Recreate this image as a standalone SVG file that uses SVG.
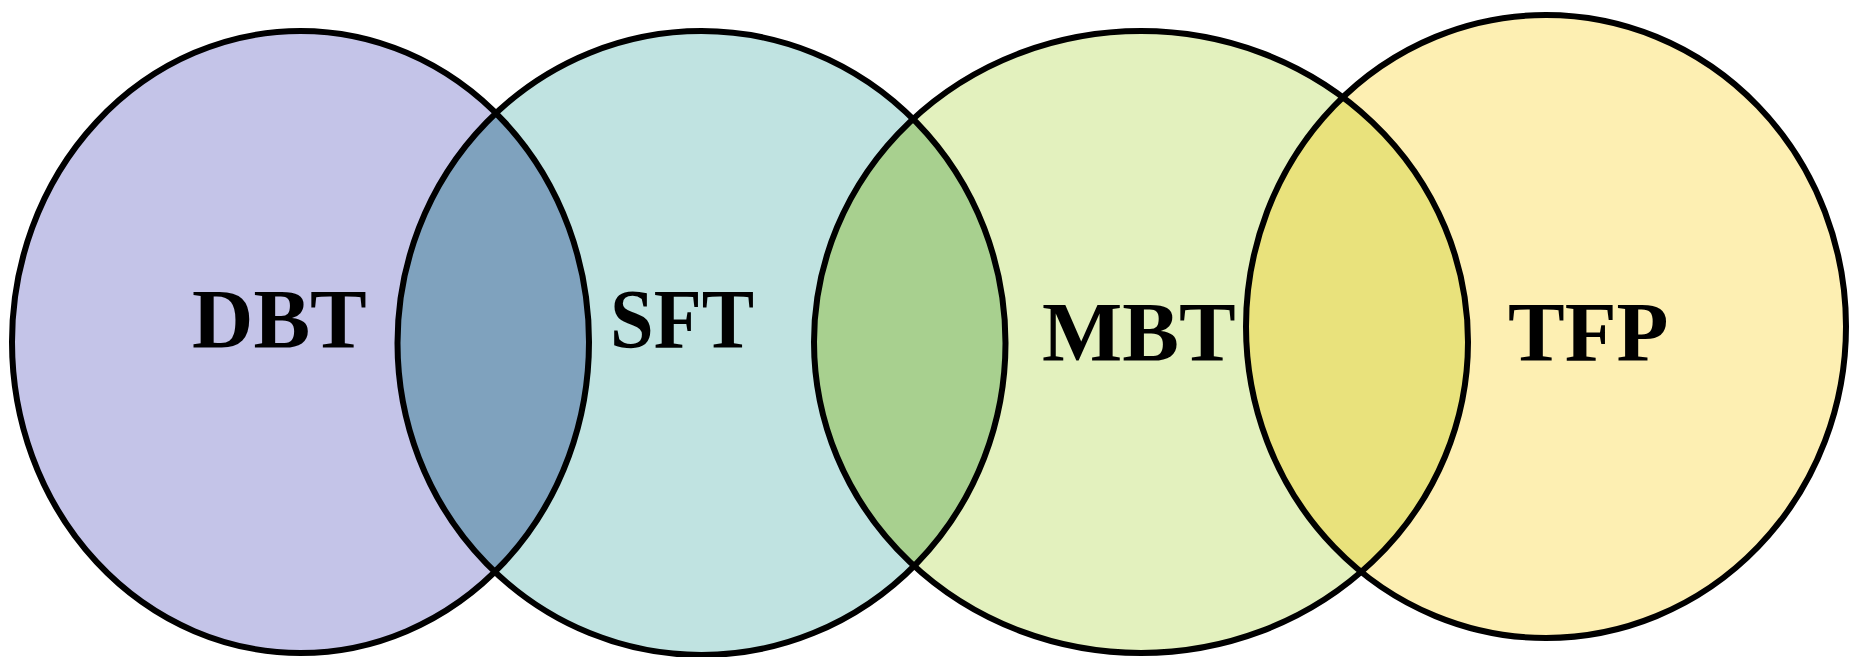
<svg xmlns="http://www.w3.org/2000/svg" xmlns:xlink="http://www.w3.org/1999/xlink" width="1849" height="657" viewBox="0 0 1849 657">
  <style>
    .ring { fill: none; stroke: #000; stroke-width: 6; }
    .label { font-family: "Liberation Serif", "Times New Roman", serif; font-weight: bold; font-size: 85px; fill: #000; }
  </style>
  <defs>
    <clipPath id="clipDBT"><ellipse cx="300.5" cy="342" rx="288.5" ry="311"/></clipPath>
    <clipPath id="clipSFT"><ellipse cx="701.5" cy="343" rx="304" ry="312"/></clipPath>
    <clipPath id="clipMBT"><ellipse cx="1141" cy="342" rx="327" ry="311"/></clipPath>
  </defs>
  <rect width="1849" height="657" fill="#fff"/>
  <g id="fills">
    <ellipse cx="300.5" cy="342" rx="288.5" ry="311" fill="#c4c4e8"/>
    <ellipse cx="701.5" cy="343" rx="304" ry="312" fill="#c0e3e1"/>
    <ellipse cx="1141" cy="342" rx="327" ry="311" fill="#e3f1be"/>
    <ellipse cx="1546" cy="326.5" rx="300" ry="311.5" fill="#fdefb2"/>
    <ellipse cx="701.5" cy="343" rx="304" ry="312" fill="#7fa2be" clip-path="url(#clipDBT)"/>
    <ellipse cx="1141" cy="342" rx="327" ry="311" fill="#a8d08f" clip-path="url(#clipSFT)"/>
    <ellipse cx="1546" cy="326.5" rx="300" ry="311.5" fill="#e9e27c" clip-path="url(#clipMBT)"/>
  </g>
  <g id="node-DBT">
    <ellipse class="ring" cx="300.5" cy="342" rx="288.5" ry="311"/>
    <text class="label" x="192" y="348">DBT</text>
  </g>
  <g id="node-SFT">
    <ellipse class="ring" cx="701.5" cy="343" rx="304" ry="312"/>
    <text class="label" x="610" y="348" textLength="144" lengthAdjust="spacingAndGlyphs">SFT</text>
  </g>
  <g id="node-MBT">
    <ellipse class="ring" cx="1141" cy="342" rx="327" ry="311"/>
    <text class="label" x="1042" y="361">MBT</text>
  </g>
  <g id="node-TFP">
    <ellipse class="ring" cx="1546" cy="326.5" rx="300" ry="311.5"/>
    <text class="label" x="1508" y="361">TFP</text>
  </g>
  <g id="connectors"/>
</svg>
